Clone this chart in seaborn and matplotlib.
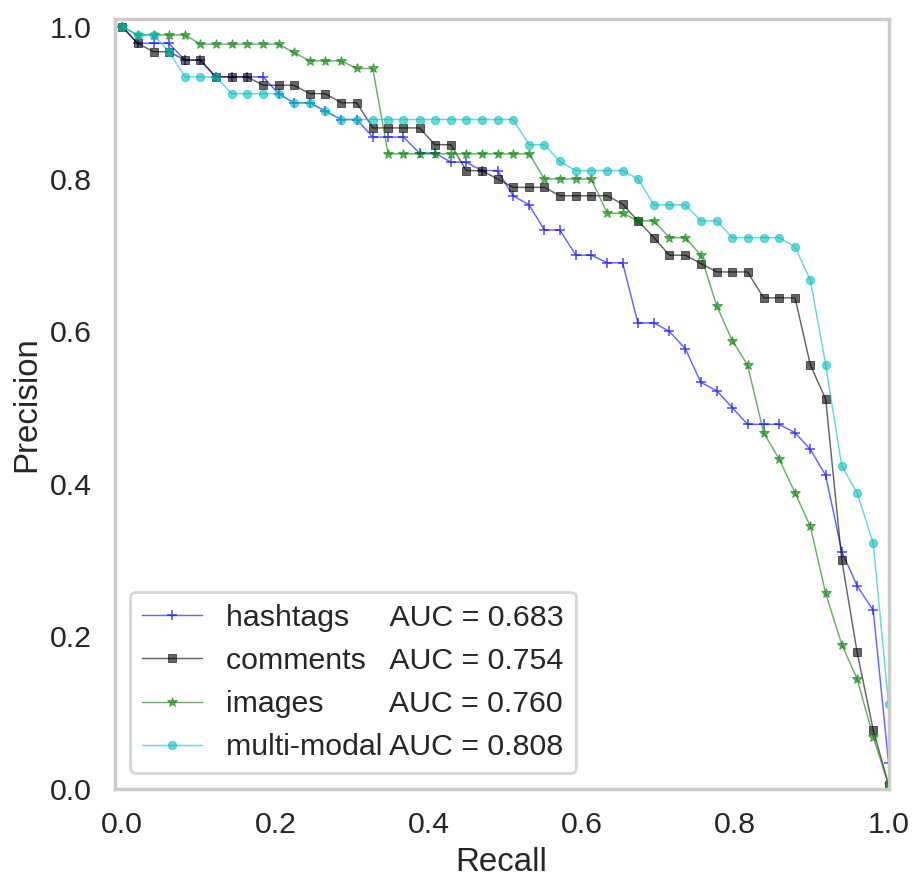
import numpy as np
import pandas as pd
import matplotlib
matplotlib.use("Agg")
import matplotlib.pyplot as plt
import seaborn as sns

# recall levels shared by all curves
recall = [0.000, 0.020, 0.041, 0.061, 0.082, 0.102, 0.122, 0.143, 0.163, 0.184,
          0.204, 0.224, 0.245, 0.265, 0.286, 0.306, 0.327, 0.347, 0.367, 0.388,
          0.408, 0.429, 0.449, 0.469, 0.490, 0.510, 0.531, 0.551, 0.571, 0.592,
          0.612, 0.633, 0.653, 0.673, 0.694, 0.714, 0.735, 0.755, 0.776, 0.796,
          0.816, 0.837, 0.857, 0.878, 0.898, 0.918, 0.939, 0.959, 0.980, 1.000]

hashtags = [1.000, 0.978, 0.978, 0.978, 0.956, 0.956, 0.934, 0.934, 0.934, 0.934,
            0.912, 0.900, 0.900, 0.889, 0.878, 0.878, 0.855, 0.855, 0.855, 0.834,
            0.834, 0.822, 0.822, 0.811, 0.811, 0.778, 0.766, 0.733, 0.733, 0.700,
            0.700, 0.690, 0.690, 0.611, 0.611, 0.600, 0.577, 0.533, 0.522, 0.500,
            0.478, 0.478, 0.478, 0.467, 0.445, 0.411, 0.311, 0.266, 0.234, 0.034]

comments = [1.000, 0.978, 0.967, 0.967, 0.956, 0.956, 0.934, 0.934, 0.934, 0.923,
            0.923, 0.923, 0.912, 0.912, 0.900, 0.900, 0.867, 0.867, 0.867, 0.867,
            0.845, 0.845, 0.811, 0.811, 0.800, 0.789, 0.789, 0.789, 0.778, 0.778,
            0.778, 0.778, 0.767, 0.745, 0.723, 0.700, 0.700, 0.689, 0.678, 0.678,
            0.678, 0.644, 0.644, 0.644, 0.556, 0.511, 0.300, 0.179, 0.077, 0.005]

images = [1.000, 0.989, 0.989, 0.989, 0.989, 0.977, 0.977, 0.977, 0.977, 0.977,
          0.977, 0.966, 0.955, 0.955, 0.955, 0.945, 0.945, 0.833, 0.833, 0.833,
          0.833, 0.833, 0.833, 0.833, 0.833, 0.833, 0.833, 0.800, 0.800, 0.800,
          0.800, 0.755, 0.755, 0.745, 0.745, 0.723, 0.723, 0.700, 0.633, 0.588,
          0.556, 0.467, 0.433, 0.388, 0.344, 0.256, 0.189, 0.144, 0.068, 0.005]

multimodal = [1.000, 0.989, 0.989, 0.967, 0.934, 0.934, 0.934, 0.912, 0.912, 0.912,
              0.912, 0.900, 0.900, 0.889, 0.878, 0.878, 0.878, 0.878, 0.878, 0.878,
              0.878, 0.878, 0.878, 0.878, 0.878, 0.878, 0.845, 0.845, 0.823, 0.811,
              0.811, 0.811, 0.811, 0.800, 0.766, 0.766, 0.766, 0.745, 0.745, 0.723,
              0.723, 0.723, 0.723, 0.711, 0.667, 0.556, 0.423, 0.388, 0.322, 0.111]

names = ["hashtags", "comments", "images", "multi-modal"]
auc = [0.683, 0.754, 0.760, 0.808]
curves = [hashtags, comments, images, multimodal]

# spaces so the AUC column lines up (Arial metrics)
pads = [5, 3, 8, 1]
colors = ["#0000ff", "#000000", "#008000", "#00bfbf"]
markers = ["+", "s", "*", "o"]
msizes = [5, 4, 5.5, 4.5]
mews = [1.0, 0.5, 0.5, 0.5]

sns.set_theme(style="whitegrid", context="talk")
plt.rcParams["font.family"] = ["Liberation Sans", "DejaVu Sans"]

fig, ax = plt.subplots(figsize=(922 / 132, 886 / 132), dpi=132)
fig.subplots_adjust(left=0.1242, right=0.9637, bottom=0.110, top=0.9786)

for name, a, prec, c, m, ms, mew, pad in zip(names, auc, curves, colors,
                                             markers, msizes, mews, pads):
    label = name + " " * pad + "AUC = {:.3f}".format(a)
    sns.lineplot(x=recall, y=prec, ax=ax, color=c, marker=m, markersize=ms,
                 markeredgecolor=c, markeredgewidth=mew, linewidth=0.8,
                 alpha=0.6, label=label, sort=False, errorbar=None)

ax.grid(False)
ax.set_xlim(-0.01, 1.0)
ax.set_ylim(0.0, 1.01)
ax.set_xticks(np.arange(0, 1.01, 0.2))
ax.set_yticks(np.arange(0, 1.01, 0.2))
ax.set_xlabel("Recall")
ax.set_ylabel("Precision")
ax.legend(loc="lower left")

fig.savefig("out.png", dpi=132)
